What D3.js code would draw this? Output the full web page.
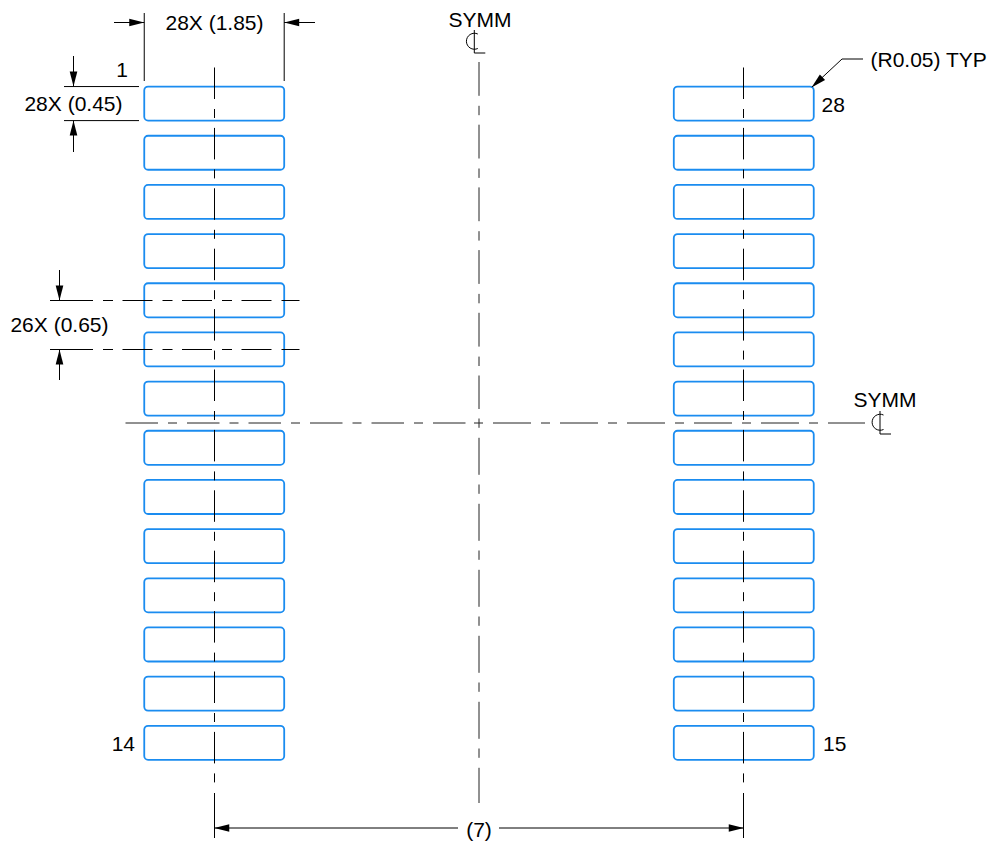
<!DOCTYPE html>
<html>
<head>
<meta charset="utf-8">
<script src="https://cdn.jsdelivr.net/npm/d3@7"></script>
<style>
  html, body { margin: 0; background: #fff; }
  text { font-family: "Liberation Sans", Arial, sans-serif; font-size: 21px; fill: #000; }
</style>
</head>
<body>
<div id="drawing"></div>
<script>
// land pattern, all values in mm from the package centre
const padColumnsMm = [-3.5, 3.5];
const padRowsMm = [-4.225, -3.575, -2.925, -2.275, -1.625, -0.975, -0.325,
                   0.325, 0.975, 1.625, 2.275, 2.925, 3.575, 4.225];
const padLengthMm = 1.85;
const padWidthMm = 0.45;
const pitchLinesMm = [-1.625, -0.975];

const pinLabels = ["1", "14", "15", "28"];
const dimLabels = ["28X (1.85)", "28X (0.45)", "26X (0.65)", "(7)", "(R0.05) TYP"];
const symmLabel = "SYMM";

const width = 990, height = 842;
const pxPerMm = 75.65;

const x = d3.scaleLinear().domain([-1, 1]).range([479 - pxPerMm, 479 + pxPerMm]);
const y = d3.scaleLinear().domain([-1, 1]).range([423.2 - pxPerMm, 423.2 + pxPerMm]);

const svg = d3.select("#drawing").append("svg")
    .attr("width", width)
    .attr("height", height)
    .style("display", "block");

const blue = "#1a8cf0";
const black = "#000";
const centerGrey = "#222";

// pads
svg.append("g")
    .attr("fill", "none")
    .attr("stroke", blue)
    .attr("stroke-width", 1.8)
    .selectAll("g")
    .data(padColumnsMm)
    .join("g")
    .selectAll("rect")
    .data(cx => padRowsMm.map(cy => ({ cx, cy })))
    .join("rect")
    .attr("x", d => x(d.cx - padLengthMm / 2))
    .attr("y", d => y(d.cy - padWidthMm / 2))
    .attr("width", x(padLengthMm) - x(0))
    .attr("height", y(padWidthMm) - y(0))
    .attr("rx", 3.8);

const lines = svg.append("g").attr("fill", "none").attr("stroke", black).attr("stroke-width", 1);

function line(x1, y1, x2, y2, dash) {
    return lines.append("line")
        .attr("x1", x1).attr("y1", y1)
        .attr("x2", x2).attr("y2", y2)
        .attr("stroke-dasharray", dash || null);
}

// arrow head with its tip on (tx, ty), pointing along angle (radians)
function arrow(tx, ty, angle) {
    const len = 15, half = 3.8;
    const rot = d => [
        tx + d[0] * Math.cos(angle) - d[1] * Math.sin(angle),
        ty + d[0] * Math.sin(angle) + d[1] * Math.cos(angle)
    ];
    svg.append("path")
        .attr("d", d3.line()([[0, 0], [-len, -half], [-len, half]].map(rot)) + "Z")
        .attr("fill", black);
}

// centre lines of the two pad columns
padColumnsMm.forEach(c => {
    const cx = Math.floor(x(c)) + 0.5;
    line(cx, 67.5, cx, 783, "31.5,10,9,9.9");
    line(cx, 793, cx, 838);
});

// package centre lines, drawn out from the middle in two halves
const midX = Math.round(x(0)), midY = Math.round(y(0));
line(midX, 62, midX, 409, "33.8,10,9.4,9.5").attr("stroke", centerGrey);
line(midX, 418.5, midX, 803, "9.3,10,37,9.7").attr("stroke", centerGrey);
line(125.5, midY, 466, midY, "32.5,10,9,10").attr("stroke", centerGrey);
line(474, midY, 865, midY, "9,10,38,10").attr("stroke", centerGrey);

// pitch lines, 26X (0.65)
const pitchDash = "43,10,10,9.5,30,10,10,9.5,30,10,10,9.5,30,10,21";
pitchLinesMm.forEach((m, i) => {
    const py = Math.floor(y(m)) + 0.5;
    line(50, py, 299.5, py, pitchDash);
    line(59.5, i === 0 ? 270 : 380, 59.5, py);
    arrow(59.5, py, i === 0 ? Math.PI / 2 : -Math.PI / 2);
});

// 28X (1.85) pad length
const padLeft = x(padColumnsMm[0] - padLengthMm / 2);
const padRight = x(padColumnsMm[0] + padLengthMm / 2);
const padTop = y(padRowsMm[0] - padWidthMm / 2);
const padBottom = y(padRowsMm[0] + padWidthMm / 2);
line(padLeft, 13, padLeft, 81);
line(padRight, 13, padRight, 81);
line(114, 22.5, padLeft, 22.5);
line(padRight, 22.5, 315, 22.5);
arrow(padLeft, 22.5, 0);
arrow(padRight, 22.5, Math.PI);

// 28X (0.45) pad width
line(64, padTop, 139, padTop);
line(64, padBottom, 139, padBottom);
line(73.5, 56, 73.5, padTop);
line(73.5, padBottom, 73.5, 152);
arrow(73.5, padTop, Math.PI / 2);
arrow(73.5, padBottom, -Math.PI / 2);

// (7) pad span
const dimY = 828;
line(x(padColumnsMm[0]), dimY, 458, dimY);
line(499, dimY, x(padColumnsMm[1]), dimY);
arrow(x(padColumnsMm[0]), dimY, Math.PI);
arrow(x(padColumnsMm[1]), dimY, 0);

// corner radius leader
line(812, 87, 842, 59);
line(842, 59, 863, 59);
arrow(811.5, 87.5, Math.atan2(28, -30));

// centre line symbol, stem top at (sx, sy)
function clSymbol(sx, sy) {
    line(sx, sy, sx, sy + 23);
    line(sx, sy + 23, sx + 11, sy + 23);
    svg.append("path")
        .attr("d", `M${sx + 3.5},${sy + 4} A8,8 0 1 0 ${sx + 3.5},${sy + 18.5}`)
        .attr("fill", "none")
        .attr("stroke", black)
        .attr("stroke-width", 1);
}
clSymbol(474.3, 30);
clSymbol(880, 411);

// texts
const labels = [
    { t: dimLabels[0], x: 214.5, y: 30, a: "middle" },
    { t: dimLabels[1], x: 122.5, y: 111, a: "end" },
    { t: dimLabels[2], x: 108.5, y: 332, a: "end" },
    { t: dimLabels[3], x: 479, y: 837, a: "middle" },
    { t: dimLabels[4], x: 870.5, y: 67, a: "start" },
    { t: pinLabels[0], x: 128, y: 77, a: "end" },
    { t: pinLabels[1], x: 135, y: 751, a: "end" },
    { t: pinLabels[2], x: 823, y: 751, a: "start" },
    { t: pinLabels[3], x: 821.5, y: 112, a: "start" },
    { t: symmLabel, x: 480, y: 27, a: "middle" },
    { t: symmLabel, x: 885, y: 407, a: "middle" }
];

svg.append("g")
    .selectAll("text")
    .data(labels)
    .join("text")
    .attr("x", d => d.x)
    .attr("y", d => d.y)
    .attr("text-anchor", d => d.a)
    .text(d => d.t);
</script>
</body>
</html>
